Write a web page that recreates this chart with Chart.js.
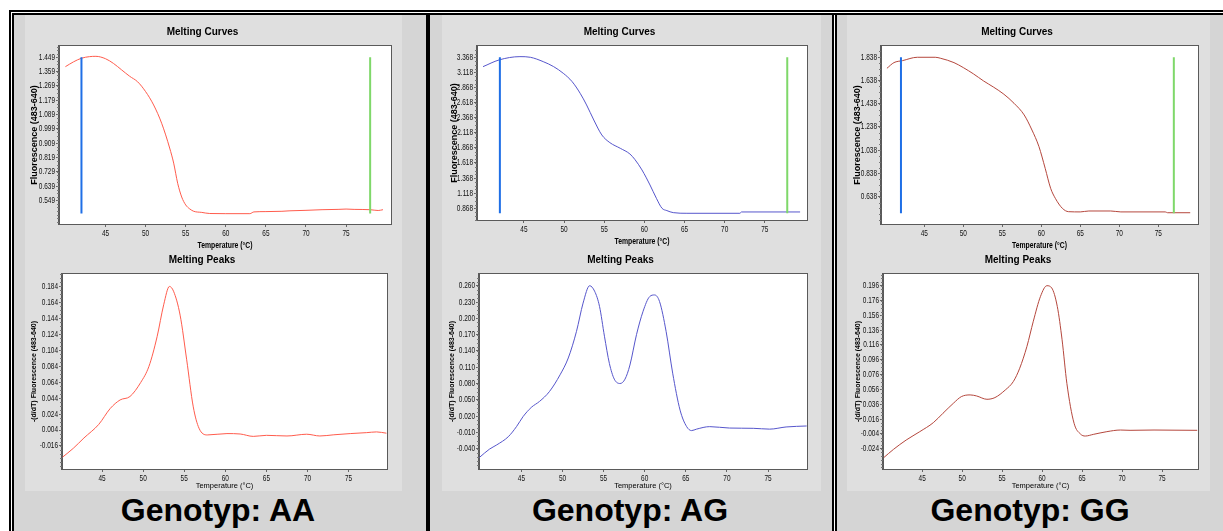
<!DOCTYPE html>
<html>
<head>
<meta charset="utf-8">
<script src="https://cdn.jsdelivr.net/npm/chart.js@4/dist/chart.umd.min.js"></script>
<style>
  body { margin: 0; background: #fff; width: 1223px; height: 531px; overflow: hidden; position: relative; font-family: 'Liberation Sans', Arial, sans-serif; }
  .blk { position: absolute; background: #000; }
  .panel { position: absolute; background: #d5d5d5; }
  .shot { position: absolute; background: #dfdfdf; }
  canvas { position: absolute; }
  .cap { position: absolute; width: 300px; text-align: center; font: bold 32px 'Liberation Sans', Arial, sans-serif; line-height: 32px; color: #000; }
</style>
</head>
<body>
<!-- panel backgrounds -->
<div class="panel" style="left:14px;top:15px;width:412px;height:516px"></div>
<div class="panel" style="left:430px;top:15px;width:402px;height:516px"></div>
<div class="panel" style="left:837px;top:15px;width:386px;height:516px"></div>
<div class="shot" style="left:25px;top:15px;width:377px;height:476px"></div>
<div class="shot" style="left:442px;top:15px;width:379px;height:476px"></div>
<div class="shot" style="left:847px;top:15px;width:363px;height:476px"></div>
<!-- double frame -->
<div class="blk" style="left:9px;top:10px;width:1214px;height:2px"></div>
<div class="blk" style="left:12px;top:13px;width:1211px;height:2px"></div>
<div class="blk" style="left:9px;top:10px;width:2px;height:521px"></div>
<div class="blk" style="left:12px;top:13px;width:2px;height:518px"></div>
<div class="blk" style="left:426px;top:13px;width:4px;height:518px"></div>
<div class="blk" style="left:832px;top:13px;width:2px;height:518px"></div>
<div class="blk" style="left:835px;top:13px;width:2px;height:518px"></div>

<canvas id="c1" width="385" height="232" style="left:14px;top:20px"></canvas>
<canvas id="p1" width="378" height="243" style="left:17px;top:248px"></canvas>
<canvas id="c2" width="383" height="228" style="left:432px;top:20px"></canvas>
<canvas id="p2" width="381" height="243" style="left:434px;top:248px"></canvas>
<canvas id="c3" width="370" height="232" style="left:836px;top:20px"></canvas>
<canvas id="p3" width="368" height="243" style="left:838px;top:248px"></canvas>

<div class="cap" style="left:68px;top:494px">Genotyp: AA</div>
<div class="cap" style="left:480px;top:494px">Genotyp: AG</div>
<div class="cap" style="left:880px;top:494px">Genotyp: GG</div>

<script>
// temperature ticks shared by all plots
const tempTicks = [45, 50, 55, 60, 65, 70, 75];

// Genotyp AA
const aaMeltT = [40.0, 41.0, 42.0, 43.0, 43.8, 45.0, 46.0, 47.0, 48.0, 49.0, 50.0, 51.0, 52.0, 53.0, 53.5, 54.0, 54.5, 55.0, 55.5, 56.0, 57.0, 58.0, 60.0, 63.0, 63.5, 65.0, 67.0, 68.0, 70.0, 72.0, 74.0, 75.0, 76.0, 78.0, 79.0, 79.6];
const aaMeltF = [1.39, 1.42, 1.443, 1.453, 1.455, 1.44, 1.41, 1.37, 1.33, 1.295, 1.233, 1.149, 1.034, 0.878, 0.783, 0.656, 0.57, 0.52, 0.495, 0.48, 0.473, 0.466, 0.465, 0.465, 0.476, 0.478, 0.48, 0.483, 0.486, 0.49, 0.492, 0.494, 0.492, 0.49, 0.485, 0.49];
const aaPeakT = [40.2, 41.5, 42.8, 44.6, 46.0, 47.2, 48.4, 49.7, 50.7, 51.7, 52.5, 53.2, 53.7, 54.5, 55.3, 56.1, 56.8, 57.8, 60.2, 61.8, 63.4, 65.0, 67.5, 69.9, 71.5, 73.2, 75.2, 77.2, 78.4, 79.6];
const aaPeakF = [-0.030, -0.019, -0.006, 0.011, 0.031, 0.0417, 0.046, 0.0635, 0.0836, 0.121, 0.161, 0.184, 0.178, 0.148, 0.092, 0.033, 0.0062, -0.0022, -0.0005, -0.001, -0.004, -0.0027, -0.0035, -0.0013, -0.0035, -0.002, -0.0005, 0.0007, 0.0016, 0.0];
const aaMeltTicks = [1.449, 1.359, 1.269, 1.179, 1.089, 0.999, 0.909, 0.819, 0.729, 0.639, 0.549];
const aaPeakTicks = [0.184, 0.164, 0.144, 0.124, 0.104, 0.084, 0.064, 0.044, 0.024, 0.004, -0.016];
const aaMarkT = [42, 78];
const aaMarkF = [1.449, 0.466];

// Genotyp AG
const agMeltT = [39.9, 41.9, 44.5, 45.8, 47.4, 48.7, 49.9, 51.0, 52.0, 52.8, 53.7, 54.7, 55.7, 57.0, 58.2, 58.8, 59.7, 60.7, 61.5, 62.2, 62.8, 63.6, 65.3, 71.9, 72.1, 79.4];
const agMeltF = [3.213, 3.324, 3.379, 3.368, 3.296, 3.213, 3.103, 2.965, 2.772, 2.579, 2.33, 2.082, 1.955, 1.861, 1.767, 1.679, 1.503, 1.254, 1.033, 0.868, 0.83, 0.796, 0.785, 0.785, 0.807, 0.807];
const agPeakT = [39.9, 41.1, 42.0, 43.4, 44.4, 45.2, 46.2, 47.2, 48.4, 49.7, 50.7, 51.7, 52.5, 53.3, 53.9, 54.5, 55.1, 55.7, 56.3, 57.0, 57.6, 58.2, 59.0, 59.8, 60.6, 61.2, 61.8, 62.6, 63.4, 64.3, 65.1, 65.7, 66.3, 67.9, 70.3, 73.2, 75.2, 77.2, 79.7];
const agPeakF = [-0.056, -0.041, -0.033, -0.018, 0.0006, 0.019, 0.036, 0.047, 0.065, 0.096, 0.127, 0.176, 0.228, 0.260, 0.250, 0.222, 0.167, 0.117, 0.088, 0.080, 0.088, 0.114, 0.170, 0.213, 0.240, 0.243, 0.231, 0.176, 0.099, 0.031, 0.0006, -0.0067, -0.004, 0.0006, -0.002, -0.0025, -0.004, 0.0, 0.0018];
const agMeltTicks = [3.368, 3.118, 2.868, 2.618, 2.368, 2.118, 1.868, 1.618, 1.368, 1.118, 0.868];
const agPeakTicks = [0.260, 0.230, 0.200, 0.170, 0.140, 0.110, 0.080, 0.050, 0.020, -0.010, -0.040];
const agMarkT = [42, 77.8];
const agMarkF = [3.368, 0.785];

// Genotyp GG
const ggMeltT = [40.2, 41.1, 42.2, 44.1, 46.4, 47.1, 48.8, 50.0, 51.3, 52.6, 53.9, 55.2, 56.5, 57.8, 58.8, 59.7, 60.5, 61.2, 61.8, 62.7, 63.5, 65.0, 66.1, 68.9, 70.2, 75.9, 76.2, 79.1];
const ggMeltF = [1.743, 1.792, 1.809, 1.838, 1.838, 1.829, 1.792, 1.749, 1.695, 1.634, 1.58, 1.52, 1.442, 1.342, 1.212, 1.069, 0.882, 0.71, 0.624, 0.538, 0.509, 0.507, 0.515, 0.515, 0.507, 0.507, 0.5, 0.5];
const ggPeakT = [40.2, 41.4, 43.0, 44.7, 46.4, 47.6, 48.9, 49.9, 51.0, 51.8, 53.1, 54.1, 55.4, 56.4, 57.2, 58.1, 58.9, 59.8, 60.6, 61.2, 61.9, 62.5, 63.1, 64.0, 64.8, 65.4, 66.4, 68.1, 69.8, 71.0, 74.0, 76.5, 79.4];
const ggPeakF = [-0.036, -0.025, -0.0123, -0.001, 0.0112, 0.0238, 0.0373, 0.0463, 0.0486, 0.0472, 0.0427, 0.045, 0.0553, 0.0666, 0.0846, 0.114, 0.148, 0.1816, 0.196, 0.193, 0.168, 0.123, 0.064, 0.0103, -0.0042, -0.0069, -0.0047, -0.001, 0.0012, 0.0008, 0.0012, 0.001, 0.0008];
const ggMeltTicks = [1.838, 1.638, 1.438, 1.238, 1.038, 0.838, 0.638];
const ggPeakTicks = [0.196, 0.176, 0.156, 0.136, 0.116, 0.096, 0.076, 0.056, 0.036, 0.016, -0.004, -0.024];
const ggMarkT = [42, 77];
const ggMarkF = [1.838, 0.495];

// "Arimo" in the family list marks text that gets squeezed to a narrow face below
const narrow = "Arimo, 'Liberation Sans', sans-serif";
const sans = "'Liberation Sans', Arial, sans-serif";

// no narrow font is installed, so squeeze those labels horizontally
const narrowText = {
  id: 'narrowText',
  beforeDraw(chart) {
    const ctx = chart.ctx;
    if (ctx.__narrow) return;
    ctx.__narrow = true;
    const fill = ctx.fillText;
    ctx.fillText = function (text, x, y, maxW) {
      if (this.font.indexOf('Arimo') < 0) {
        return maxW ? fill.call(this, text, x, y, maxW) : fill.call(this, text, x, y);
      }
      this.save();
      this.translate(x, y);
      this.scale(0.72, 1);
      fill.call(this, text, 0, 0);
      this.restore();
    };
  }
};

// white plot background, grey frame and small minor ticks on the y axis
const plotFrame = {
  id: 'plotFrame',
  beforeDraw(chart) {
    const a = chart.chartArea, ctx = chart.ctx;
    ctx.save();
    ctx.fillStyle = '#fff';
    ctx.fillRect(a.left, a.top, a.right - a.left, a.bottom - a.top);
    ctx.restore();
  },
  afterDraw(chart) {
    const a = chart.chartArea, ctx = chart.ctx, y = chart.scales.y;
    ctx.save();
    ctx.strokeStyle = '#5a5a5a';
    ctx.lineWidth = 1;
    ctx.strokeRect(a.left - 0.5, a.top - 0.5, a.right - a.left + 1, a.bottom - a.top + 1);
    // minor ticks, four to each labelled step
    const t = y.ticks.map(k => k.value);
    const step = (t[0] - t[1]) / 4;
    const first = t[t.length - 1] - Math.floor((t[t.length - 1] - y.min) / step) * step;
    ctx.strokeStyle = '#777';
    ctx.beginPath();
    for (let v = first; v <= y.max; v += step) {
      const py = Math.round(y.getPixelForValue(v)) + 0.5;
      ctx.moveTo(a.left - 2, py);
      ctx.lineTo(a.left, py);
    }
    ctx.stroke();
    ctx.restore();
  }
};

function pts(xs, ys) {
  return xs.map((x, i) => ({ x: x, y: ys[i] }));
}

function drawChart(id, o) {
  const datasets = [{
    data: pts(o.t, o.f),
    borderColor: o.color,
    borderWidth: 1,
    pointRadius: 0,
    cubicInterpolationMode: 'monotone'
  }];
  if (o.markT) {
    datasets.unshift({ data: pts([o.markT[0], o.markT[0]], o.markF), borderColor: '#1f6fe6', borderWidth: 2, pointRadius: 0 });
    datasets.unshift({ data: pts([o.markT[1], o.markT[1]], o.markF), borderColor: '#7fd86a', borderWidth: 2, pointRadius: 0 });
  }
  new Chart(document.getElementById(id), {
    type: 'line',
    data: { datasets: datasets },
    options: {
      responsive: false,
      animation: false,
      layout: { padding: { left: 0, right: 8, top: 0, bottom: 0 } },
      plugins: {
        legend: { display: false },
        tooltip: { enabled: false },
        title: {
          display: true, text: o.title, color: '#000',
          font: { family: sans, size: 10, weight: 'bold' },
          padding: { top: 6, bottom: 8 }
        }
      },
      scales: {
        x: {
          type: 'linear', min: o.xMin, max: o.xMax,
          afterBuildTicks: s => { s.ticks = tempTicks.map(v => ({ value: v })); },
          afterFit: s => { s.height = o.xH; },
          ticks: { color: '#111', font: { family: narrow, size: 9 }, padding: 1, maxRotation: 0 },
          grid: { drawOnChartArea: false, tickLength: 3, color: '#666' },
          border: { color: '#5a5a5a' },
          title: { display: true, text: 'Temperature (°C)', color: '#000',
                   font: { family: o.xTitleFam, size: o.xTitleSize, weight: o.xTitleW }, padding: { top: 0, bottom: o.xTitlePad } }
        },
        y: {
          type: 'linear', min: o.yMin, max: o.yMax,
          afterBuildTicks: s => { s.ticks = o.ticks.map(v => ({ value: v })); },
          afterFit: s => { s.width = 45; },
          ticks: { color: '#111', font: { family: narrow, size: 9 }, padding: 1, callback: v => v.toFixed(3) },
          grid: { drawOnChartArea: false, tickLength: 3, color: '#666' },
          border: { color: '#5a5a5a' },
          title: { display: true, text: o.yTitle, color: '#000',
                   font: { family: sans, size: o.yTitleSize, weight: 'bold' }, padding: { top: o.yTitlePad, bottom: 0 } }
        }
      }
    },
    plugins: [narrowText, plotFrame]
  });
}

const meltBase = { title: 'Melting Curves', yTitle: 'Fluorescence (483-640)', yTitleSize: 9,
                   xH: 28, xTitleFam: narrow, xTitleSize: 9.5, xTitleW: 'bold', xTitlePad: 1 };
const peakBase = { title: 'Melting Peaks', yTitle: '-(d/dT) Fluorescence (483-640)', yTitleSize: 7,
                   xH: 22, xTitleFam: sans, xTitleSize: 7.5, xTitleW: 'normal', xTitlePad: 1 };

drawChart('c1', Object.assign({}, meltBase, { t: aaMeltT, f: aaMeltF, color: '#ff5c4d', ticks: aaMeltTicks,
  markT: aaMarkT, markF: aaMarkF, xMin: 39.2, xMax: 80.6, yMin: 0.40, yMax: 1.52, yTitlePad: 15.6 }));
drawChart('p1', Object.assign({}, peakBase, { t: aaPeakT, f: aaPeakF, color: '#ff5c4d', ticks: aaPeakTicks,
  xMin: 40.13, xMax: 79.67, yMin: -0.0449, yMax: 0.1996, yTitlePad: 13 }));

drawChart('c2', Object.assign({}, meltBase, { t: agMeltT, f: agMeltF, color: '#5656cc', ticks: agMeltTicks,
  markT: agMarkT, markF: agMarkF, xMin: 39.15, xMax: 80.26, yMin: 0.674, yMax: 3.555, yTitlePad: 17.6 }));
drawChart('p2', Object.assign({}, peakBase, { t: agPeakT, f: agPeakF, color: '#5656cc', ticks: agPeakTicks,
  xMin: 39.84, xMax: 79.74, yMin: -0.0774, yMax: 0.2816, yTitlePad: 13.5 }));

drawChart('c3', Object.assign({}, meltBase, { t: ggMeltT, f: ggMeltF, color: '#b5473d', ticks: ggMeltTicks,
  markT: ggMarkT, markF: ggMarkF, xMin: 39.44, xMax: 80.1, yMin: 0.403, yMax: 1.935, yTitlePad: 16 }));
drawChart('p3', Object.assign({}, peakBase, { t: ggPeakT, f: ggPeakF, color: '#b5473d', ticks: ggPeakTicks,
  xMin: 40.1, xMax: 79.5, yMin: -0.0514, yMax: 0.2118, yTitlePad: 15.5 }));
</script>
</body>
</html>
